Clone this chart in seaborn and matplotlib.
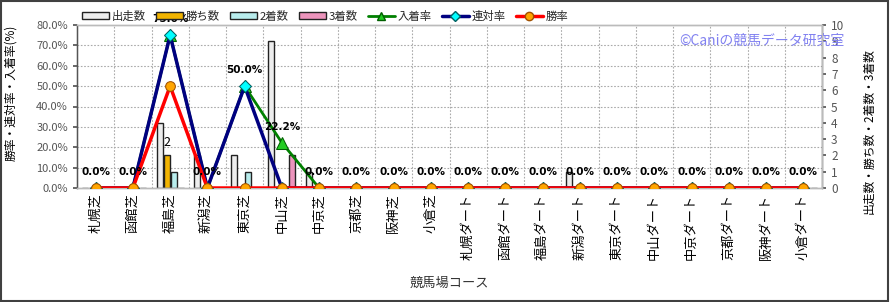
import matplotlib
matplotlib.use("Agg")
import matplotlib.pyplot as plt
import seaborn as sns
import numpy as np
import pandas as pd
from matplotlib.patches import Patch, Rectangle
from matplotlib.lines import Line2D
from matplotlib.ticker import FuncFormatter, MultipleLocator

sns.set_theme(style="white")
plt.rcParams['font.family'] = ['Noto Sans CJK JP', 'DejaVu Sans']

courses = ["札幌芝", "函館芝", "福島芝", "新潟芝", "東京芝", "中山芝", "中京芝", "京都芝", "阪神芝", "小倉芝",
           "札幌ダート", "函館ダート", "福島ダート", "新潟ダート", "東京ダート", "中山ダート", "中京ダート",
           "京都ダート", "阪神ダート", "小倉ダート"]
runs    = [0, 0, 4, 2, 2, 9, 1, 0, 0, 0, 0, 0, 0, 1, 0, 0, 0, 0, 0, 0]
wins    = [0, 0, 2, 0, 0, 0, 0, 0, 0, 0, 0, 0, 0, 0, 0, 0, 0, 0, 0, 0]
seconds = [0, 0, 1, 0, 1, 0, 0, 0, 0, 0, 0, 0, 0, 0, 0, 0, 0, 0, 0, 0]
thirds  = [0, 0, 0, 0, 0, 2, 0, 0, 0, 0, 0, 0, 0, 0, 0, 0, 0, 0, 0, 0]
place_rate = [0, 0, 75.0, 0, 50.0, 22.2, 0, 0, 0, 0, 0, 0, 0, 0, 0, 0, 0, 0, 0, 0]
rentai_rate = [0, 0, 75.0, 0, 50.0, 0, 0, 0, 0, 0, 0, 0, 0, 0, 0, 0, 0, 0, 0, 0]
win_rate = [0, 0, 50.0, 0, 0, 0, 0, 0, 0, 0, 0, 0, 0, 0, 0, 0, 0, 0, 0, 0]

bar_names = ["出走数", "勝ち数", "2着数", "3着数"]
bar_colors = ["#EDEDED", "#F2B400", "#B8ECEC", "#EC94BC"]

W, H = 890, 302
fig = plt.figure(figsize=(W / 100, H / 100), dpi=100)
fig.patch.set_facecolor("white")
L, R, T, B = 77, 822, 25, 188
ax = fig.add_axes([L / W, 1 - B / H, (R - L) / W, (B - T) / H])
ax2 = ax.twinx()

# bars on right axis (counts)
df = pd.DataFrame({
    "course": [c for c in courses for _ in range(4)],
    "kind": bar_names * len(courses),
    "count": [v for i in range(len(courses)) for v in (runs[i], wins[i], seconds[i], thirds[i])],
})
sns.barplot(data=df, x="course", y="count", hue="kind", hue_order=bar_names,
            palette=bar_colors, order=courses, width=0.75, gap=0.15,
            edgecolor="#222222", linewidth=1.0, ax=ax2, legend=False, errorbar=None,
            saturation=1)
ax2.set_ylim(0, 10)
ax2.yaxis.set_major_locator(MultipleLocator(1))
ax2.set_xlim(-0.5, len(courses) - 0.5)
ax2.set_facecolor("#FAF0DC")
ax2.set_xlabel("")

# lines on left axis (rates) above bars
ax.set_zorder(ax2.get_zorder() + 1)
ax.patch.set_visible(False)
x = np.arange(len(courses))
sns.lineplot(x=x, y=place_rate, ax=ax, color="#008000", lw=2, marker="^", markersize=8,
             markerfacecolor="#22CC22", markeredgecolor="#006000", zorder=3)
sns.lineplot(x=x, y=rentai_rate, ax=ax, color="#000080", lw=2.5, marker="D", markersize=6,
             markerfacecolor="#00FFFF", markeredgecolor="#006060", zorder=4)
sns.lineplot(x=x, y=win_rate, ax=ax, color="#FF0000", lw=2.5, marker="o", markersize=7,
             markerfacecolor="#FFA500", markeredgecolor="#A05000", zorder=5)
ax.set_ylim(0, 80)
ax.set_xlim(-0.5, len(courses) - 0.5)
ax.yaxis.set_major_locator(MultipleLocator(10))
ax.yaxis.set_major_formatter(FuncFormatter(lambda v, p: f"{v:.1f}%"))

for i, v in enumerate(place_rate):
    ax.annotate(f"{v:.1f}%", (i, v), xytext=(0, 11.7), textcoords="offset points",
                ha="center", va="center", fontsize=7.5, fontweight="bold", color="black",
                family=["DejaVu Sans"], zorder=6, annotation_clip=False)
# count label
ax2.annotate("2", (2 - 0.0938, 2), xytext=(0, 9), textcoords="offset points",
             ha="center", va="center", fontsize=9, color="black")

# grid (dotted)
for k in range(1, 8):
    ax2.axhline(k * 1.25, color="#AAAAAA", lw=0.8, ls=(0, (1.5, 1.5)), zorder=0)
for k in range(1, len(courses)):
    ax2.axvline(k - 0.5, color="#AAAAAA", lw=0.8, ls=(0, (1.5, 1.5)), zorder=0)
for a in (ax, ax2):
    a.grid(False)

ax.set_xticks(x)
ax.set_xticklabels(courses, rotation=90, fontsize=9.5, color="black")
ax.set_xlabel("競馬場コース", fontsize=9.5, color="#333333", labelpad=12)
ax.set_ylabel("勝率・連対率・入着率(%)", fontsize=8.5, color="black")
ax.yaxis.set_label_coords((17 - L) / (R - L), (B - 93) / (B - T))
ax2.set_ylabel("出走数・勝ち数・2着数・3着数", fontsize=8.5, color="black")
ax2.yaxis.set_label_coords((862 - L) / (R - L), (B - 131) / (B - T))
ax.tick_params(axis="y", labelsize=8, colors="#555555", length=3, direction="out", left=True)
ax.tick_params(axis="x", length=0, pad=4, labelbottom=True)
ax2.tick_params(axis="y", labelsize=8.5, colors="#555555", length=3, direction="out", right=True)
for a in (ax, ax2):
    for s in a.spines.values():
        s.set_color("#BBBBBB")
        s.set_linewidth(1)
ax.spines["left"].set_color("#555555")
ax2.spines["right"].set_color("#555555")

# watermark
ax2.text(845 / W, 1 - 41 / H, "©Caniの競馬データ研究室", transform=fig.transFigure,
         ha="right", va="center", fontsize=10, color="#8080F0", zorder=10)

handles = [Patch(facecolor=c, edgecolor="#222222", lw=1) for c in bar_colors] + [
    Line2D([], [], color="#008000", lw=2, marker="^", markersize=6, markerfacecolor="#22CC22",
           markeredgecolor="#006000"),
    Line2D([], [], color="#000080", lw=2.5, marker="D", markersize=5, markerfacecolor="#00FFFF",
           markeredgecolor="#006060"),
    Line2D([], [], color="#FF0000", lw=2.5, marker="o", markersize=6, markerfacecolor="#FFA500",
           markeredgecolor="#A05000"),
]
labels = bar_names + ["入着率", "連対率", "勝率"]
fig.legend(handles, labels, loc="center left", bbox_to_anchor=(82 / W, 1 - 16 / H), ncol=7,
           frameon=False, fontsize=8.2, handlelength=2.4, handleheight=0.55, handletextpad=0.2,
           columnspacing=0.9, borderaxespad=0, borderpad=0)

fig.patches.append(Rectangle((0.001, 0.002), 0.997, 0.995, transform=fig.transFigure,
                             fill=False, edgecolor="#404040", lw=1.5))

fig.savefig("out.png", dpi=100)
